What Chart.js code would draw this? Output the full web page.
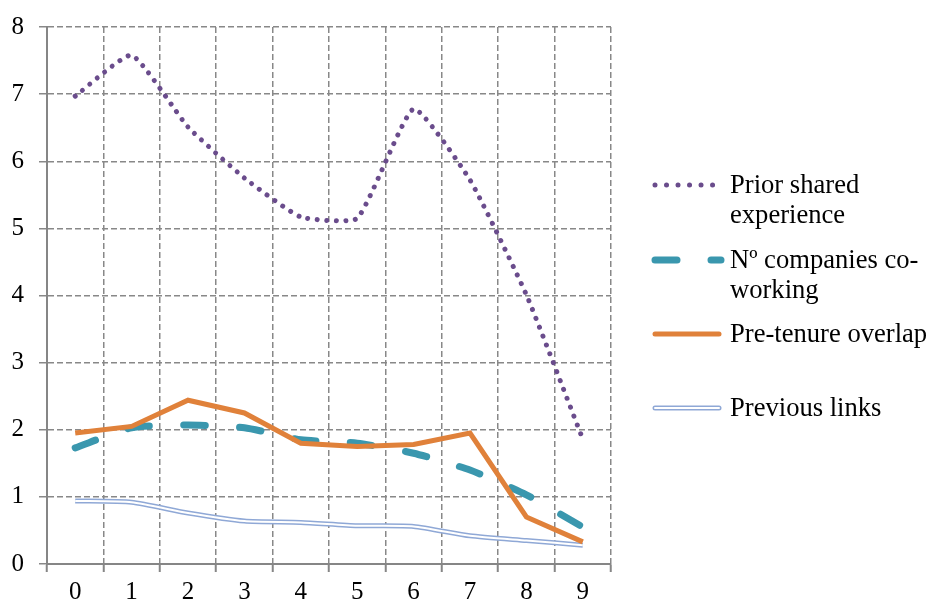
<!DOCTYPE html>
<html>
<head>
<meta charset="utf-8">
<script src="https://cdn.jsdelivr.net/npm/chart.js@4/dist/chart.umd.min.js"></script>
<style>
	html, body { margin: 0; padding: 0; background: #fff; }
	#wrap { width: 930px; height: 605px; position: relative; }
	canvas { display: block; }
</style>
</head>
<body>
<div id="wrap"><canvas id="mycanvas" width="930" height="605"></canvas></div>
<script>
var categories = ['0', '1', '2', '3', '4', '5', '6', '7', '8', '9'];
var priorShared = [6.97, 7.58, 6.51, 5.75, 5.17, 5.15, 6.78, 5.72, 4.01, 1.86];
var companiesCoworking = [1.73, 2.03, 2.07, 2.03, 1.85, 1.80, 1.65, 1.40, 1.03, 0.55];
var preTenureOverlap = [1.95, 2.05, 2.44, 2.25, 1.80, 1.75, 1.78, 1.95, 0.70, 0.33];
var previousLinks = [0.94, 0.92, 0.76, 0.64, 0.62, 0.57, 0.56, 0.42, 0.35, 0.28];
var legendNames = [['Prior shared', 'experience'], ['Nº companies co-', 'working'], ['Pre-tenure overlap'], ['Previous links']];
var yMin = 0, yMax = 8, yStep = 1;

var purple = '#6A4C8C';
var teal = '#3A97AE';
var orange = '#E0813A';
var lightBlue = '#8FA8D6';
var gridColor = '#888888';
var axisColor = '#868686';
var serif = '"Liberation Serif", "Times New Roman", serif';

// legend drawn on the canvas so the labels can wrap like the original
var sideLegend = {
	id: 'sideLegend',
	afterDraw: function(chart) {
		var ctx = chart.ctx;
		var rows = [185, 260, 334, 408];
		var x1 = 655, x2 = 719, tx = 730;
		ctx.save();
		ctx.lineCap = 'round';
		for (var i = 0; i < legendNames.length; i++) {
			var y = rows[i];
			ctx.beginPath();
			if (i == 0) {
				ctx.strokeStyle = purple; ctx.lineWidth = 5; ctx.setLineDash([0.01, 11.5]);
				ctx.moveTo(x1, y); ctx.lineTo(x2 - 4, y); ctx.stroke();
			} else if (i == 1) {
				ctx.strokeStyle = teal; ctx.lineWidth = 7; ctx.setLineDash([22, 34]);
				ctx.moveTo(x1, y); ctx.lineTo(x2 + 2, y); ctx.stroke();
			} else if (i == 2) {
				ctx.strokeStyle = orange; ctx.lineWidth = 5; ctx.setLineDash([]);
				ctx.moveTo(x1, y); ctx.lineTo(x2, y); ctx.stroke();
			} else {
				ctx.setLineDash([]);
				ctx.strokeStyle = lightBlue; ctx.lineWidth = 5;
				ctx.moveTo(x1, y); ctx.lineTo(x2, y); ctx.stroke();
				ctx.beginPath();
				ctx.strokeStyle = '#ffffff'; ctx.lineWidth = 2;
				ctx.moveTo(x1, y); ctx.lineTo(x2, y); ctx.stroke();
			}
			ctx.setLineDash([]);
			ctx.fillStyle = '#000';
			ctx.font = '26.6px ' + serif;
			ctx.textAlign = 'left';
			ctx.textBaseline = 'middle';
			for (var j = 0; j < legendNames[i].length; j++) {
				ctx.fillText(legendNames[i][j], tx, y + 1 + j * 30);
			}
		}
		ctx.restore();
	}
};

var ctx = document.getElementById('mycanvas');

var lineChart = new Chart(ctx, {
	type: 'line',
	data: {
		labels: categories,
		datasets: [
			{
				label: 'Prior shared experience',
				data: priorShared,
				borderColor: purple,
				borderWidth: 5,
				borderDash: [0.01, 9.5],
				borderCapStyle: 'round',
				tension: 0.15,
				pointRadius: 0,
				order: 1
			},
			{
				label: 'Nº companies co-working',
				data: companiesCoworking,
				borderColor: teal,
				borderWidth: 7,
				borderDash: [22, 34],
				borderCapStyle: 'round',
				tension: 0.2,
				pointRadius: 0,
				order: 3
			},
			{
				label: 'Pre-tenure overlap',
				data: preTenureOverlap,
				borderColor: orange,
				borderWidth: 5,
				tension: 0,
				pointRadius: 0,
				order: 2
			},
			{
				label: 'Previous links',
				data: previousLinks,
				borderColor: lightBlue,
				borderWidth: 5,
				tension: 0.2,
				pointRadius: 0,
				order: 5
			},
			{
				label: 'Previous links inner',
				data: previousLinks,
				borderColor: '#ffffff',
				borderWidth: 2,
				tension: 0.2,
				pointRadius: 0,
				order: 4
			}
		]
	},
	options: {
		responsive: false,
		animation: false,
		devicePixelRatio: 1,
		layout: { padding: { top: 27, right: 319, left: 0, bottom: 0 } },
		plugins: {
			legend: { display: false },
			tooltip: { enabled: false }
		},
		scales: {
			x: {
				type: 'category',
				offset: true,
				grid: { offset: true, color: gridColor, lineWidth: 1.5, tickLength: 8, tickColor: axisColor, tickWidth: 2 },
				border: { color: axisColor, width: 2, dash: [6, 3] },
				ticks: { color: '#000', font: { family: serif, size: 25 }, padding: 5, maxRotation: 0 },
				afterFit: function(scale) { scale.height = 41; }
			},
			y: {
				min: yMin,
				max: yMax,
				grid: { color: gridColor, lineWidth: 1.5, tickLength: 8 },
				border: { color: axisColor, width: 2, dash: [6, 3] },
				ticks: { stepSize: yStep, color: '#000', font: { family: serif, size: 25 }, padding: 15 },
				afterFit: function(scale) {
					scale.width = 47;
					scale.paddingTop = 0;
					scale.paddingBottom = 0;
				}
			}
		}
	},
	plugins: [sideLegend]
});
</script>
</body>
</html>
